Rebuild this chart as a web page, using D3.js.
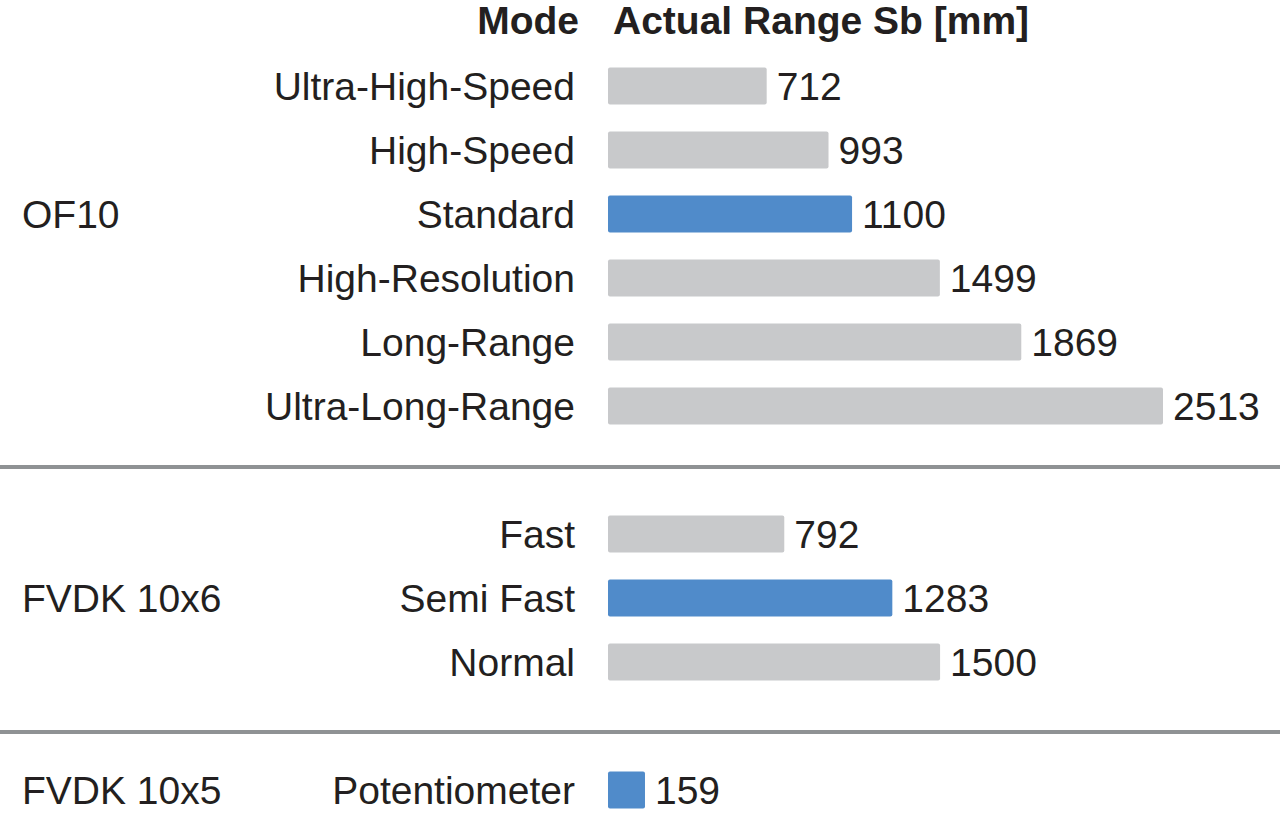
<!DOCTYPE html>
<html>
<head>
<meta charset="utf-8">
<script src="https://cdn.jsdelivr.net/npm/d3@7"></script>
<style>
  body { margin: 0; background: #fff; }
  text { font-family: "Liberation Sans", Arial, sans-serif; fill: #231f20; }
</style>
</head>
<body>
<div id="chart"></div>
<script>
// data
const groups = ['OF10', 'FVDK 10x6', 'FVDK 10x5'];
const modes = ['Ultra-High-Speed', 'High-Speed', 'Standard', 'High-Resolution', 'Long-Range', 'Ultra-Long-Range',
    'Fast', 'Semi Fast', 'Normal',
    'Potentiometer'];
const ranges = [712, 993, 1100, 1499, 1869, 2513, 792, 1283, 1500, 159];
const groupOf = [0, 0, 0, 0, 0, 0, 1, 1, 1, 2];
const standardMode = ['Standard', 'Semi Fast', 'Potentiometer'];
const groupLabelRow = ['Standard', 'Semi Fast', 'Potentiometer'];
const headers = ['Mode', 'Actual Range Sb [mm]'];

const width = 1280, height = 817;
const fontSize = 39;
const svg = d3.select('#chart')
    .append('svg')
    .attr('width', width)
    .attr('height', height);

// each group is followed by an empty slot
const slots = modes.map((m, i) => i + groupOf[i]);
const y = d3.scaleLinear().domain([0, 11]).range([86, 790]);
const x = d3.scaleLinear().domain([0, 2513]).range([610, 1163]);
const barH = 37;

// header
svg.append('text')
    .attr('x', 579).attr('y', 34)
    .attr('text-anchor', 'end')
    .attr('font-size', fontSize).attr('font-weight', 'bold')
    .text(headers[0]);
svg.append('text')
    .attr('x', 613).attr('y', 34)
    .attr('font-size', fontSize).attr('font-weight', 'bold')
    .text(headers[1]);

// separators between groups
const sepSlots = [6, 10];
const sepOffset = [-3, 6];
svg.append('g').selectAll('line')
    .data(sepSlots)
    .enter().append('line')
    .attr('x1', 0).attr('x2', width)
    .attr('y1', (d, i) => y(d) + sepOffset[i])
    .attr('y2', (d, i) => y(d) + sepOffset[i])
    .attr('stroke', '#8f9294')
    .attr('stroke-width', 4);

// bars
svg.append('g').selectAll('rect')
    .data(ranges)
    .enter().append('rect')
    .attr('x', x(0) - 2)
    .attr('y', (d, i) => y(slots[i]) - barH / 2)
    .attr('width', d => x(d) - x(0) + 2)
    .attr('height', barH)
    .attr('rx', 2)
    .attr('fill', (d, i) => standardMode.includes(modes[i]) ? '#508bca' : '#c8c9cb');

// values
svg.append('g').selectAll('text')
    .data(ranges)
    .enter().append('text')
    .attr('x', d => x(d) + 10)
    .attr('y', (d, i) => y(slots[i]))
    .attr('dy', '0.36em')
    .attr('font-size', fontSize)
    .text(d => d);

// mode labels
svg.append('g').selectAll('text')
    .data(modes)
    .enter().append('text')
    .attr('x', 575)
    .attr('y', (d, i) => y(slots[i]))
    .attr('dy', '0.36em')
    .attr('text-anchor', 'end')
    .attr('font-size', fontSize)
    .text(d => d);

// group labels
svg.append('g').selectAll('text')
    .data(groups)
    .enter().append('text')
    .attr('x', 22)
    .attr('y', (d, i) => y(slots[modes.indexOf(groupLabelRow[i])]))
    .attr('dy', '0.36em')
    .attr('font-size', fontSize)
    .text(d => d);
</script>
</body>
</html>
